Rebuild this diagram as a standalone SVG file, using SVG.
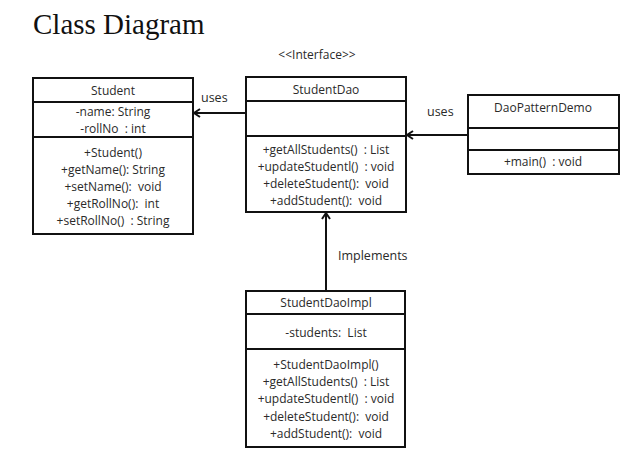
<svg xmlns="http://www.w3.org/2000/svg" width="628" height="456" viewBox="0 0 628 456">
<defs>
<style>
.box{fill:#fff;stroke:#111;stroke-width:2}
.div{stroke:#111;stroke-width:2}
.t{font-family:"Open Sans","Liberation Sans",sans-serif;font-size:12px;fill:#2a2a2a;text-anchor:middle;white-space:pre}
.lbl{font-family:"Open Sans","Liberation Sans",sans-serif;font-size:12.5px;fill:#2a2a2a}
.con{stroke:#111;stroke-width:2;fill:none}
</style>
<marker id="arr" markerWidth="10" markerHeight="10" refX="8" refY="5" orient="auto" markerUnits="userSpaceOnUse">
<path d="M2,1 L8,5 L2,9" fill="none" stroke="#111" stroke-width="2"/>
</marker>
</defs>
<rect width="628" height="456" fill="#fff"/>
<text x="33" y="34" font-family="Liberation Serif,serif" font-size="29" fill="#111">Class Diagram</text>

<g id="Student">
<rect class="box" x="33" y="78" width="160" height="156"/>
<line class="div" x1="33" y1="102" x2="193" y2="102"/>
<line class="div" x1="33" y1="137" x2="193" y2="137"/>
<text class="t" x="113" y="95">Student</text>
<text class="t" x="113" y="116">-name: String</text>
<text class="t" x="113" y="133">-rollNo  : int</text>
<text class="t" x="113" y="157">+Student()</text>
<text class="t" x="113" y="174">+getName(): String</text>
<text class="t" x="113" y="191">+setName():  void</text>
<text class="t" x="113" y="208">+getRollNo():  int</text>
<text class="t" x="113" y="225">+setRollNo()  : String</text>
</g>

<g id="StudentDao">
<text class="t" x="317" y="59">&lt;&lt;Interface&gt;&gt;</text>
<rect class="box" x="246" y="77" width="160" height="135"/>
<line class="div" x1="246" y1="101" x2="406" y2="101"/>
<line class="div" x1="246" y1="136" x2="406" y2="136"/>
<text class="t" x="326" y="94">StudentDao</text>
<text class="t" x="326" y="154">+getAllStudents()  : List</text>
<text class="t" x="326" y="171">+updateStudentl()  : void</text>
<text class="t" x="326" y="188">+deleteStudent():  void</text>
<text class="t" x="326" y="205">+addStudent():  void</text>
</g>

<g id="DaoPatternDemo">
<rect class="box" x="468" y="95" width="151" height="79"/>
<line class="div" x1="468" y1="128" x2="619" y2="128"/>
<line class="div" x1="468" y1="150" x2="619" y2="150"/>
<text class="t" x="543" y="112">DaoPatternDemo</text>
<text class="t" x="543" y="166">+main()  : void</text>
</g>

<g id="StudentDaoImpl">
<rect class="box" x="246" y="291" width="159" height="156"/>
<line class="div" x1="246" y1="314" x2="405" y2="314"/>
<line class="div" x1="246" y1="349" x2="405" y2="349"/>
<text class="t" x="326" y="307">StudentDaoImpl</text>
<text class="t" x="326" y="337">-students:  List</text>
<text class="t" x="326" y="369">+StudentDaoImpl()</text>
<text class="t" x="326" y="386">+getAllStudents()  : List</text>
<text class="t" x="326" y="403">+updateStudentl()  : void</text>
<text class="t" x="326" y="421">+deleteStudent():  void</text>
<text class="t" x="326" y="438">+addStudent():  void</text>
</g>

<g id="connectors">
<line class="con" x1="246" y1="113" x2="194" y2="113" marker-end="url(#arr)"/>
<text class="lbl" x="201" y="102">uses</text>
<line class="con" x1="468" y1="135" x2="407" y2="135" marker-end="url(#arr)"/>
<text class="lbl" x="427" y="116">uses</text>
<line class="con" x1="326" y1="291" x2="326" y2="213" marker-end="url(#arr)"/>
<text class="lbl" x="338" y="260">Implements</text>
</g>
</svg>
